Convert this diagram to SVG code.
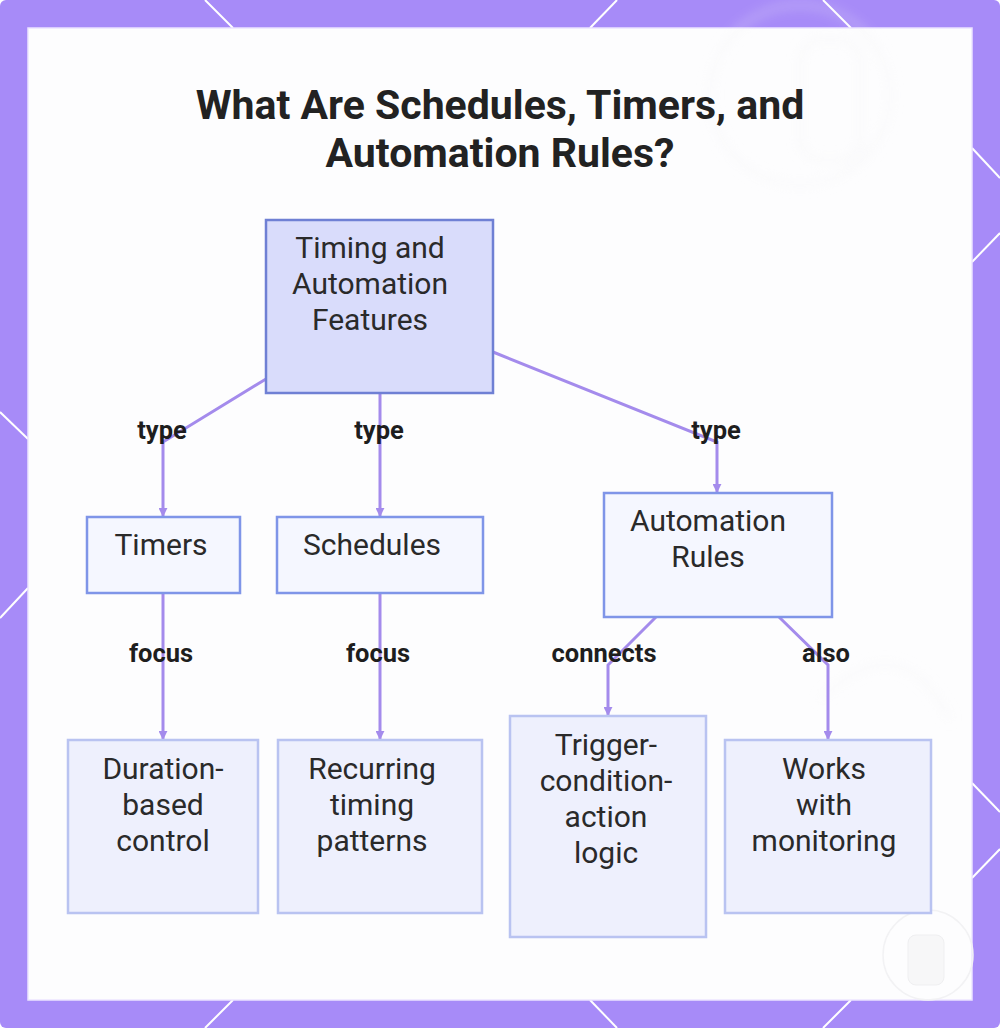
<svg xmlns="http://www.w3.org/2000/svg" width="1000" height="1028" viewBox="0 0 1000 1028">
  <defs>
    <style>
      .title { font-family: Roboto, "Liberation Sans", sans-serif; font-weight: 700; font-size: 41px; fill: #222222; text-anchor: middle; }
      .ntext { font-family: Roboto, "Liberation Sans", sans-serif; font-size: 30px; fill: #2a2a2a; text-anchor: middle; }
      .elabel { font-family: Roboto, "Liberation Sans", sans-serif; font-weight: 700; font-size: 25.5px; fill: #1e1e1e; text-anchor: middle; }
      .edge { fill: none; stroke: #a48bec; stroke-width: 3; marker-end: url(#arrow); }
      .root { fill: #d9dcfb; stroke: #6f80d4; stroke-width: 2.5; }
      .mid { fill: #f5f7ff; stroke: #7f95e8; stroke-width: 2.5; }
      .leaf { fill: #eef0fd; stroke: #b9c3f1; stroke-width: 2.5; }
      .deco { stroke: #ffffff; stroke-width: 2; fill: none; }
      .faint { fill: none; stroke: #f1f1f3; stroke-width: 3; }
    </style>
    <marker id="arrow" viewBox="0 0 10 10" refX="9" refY="5" markerWidth="3" markerHeight="3" orient="auto">
      <path d="M0,0 L10,5 L0,10 z" fill="#a48bec"/>
    </marker>
    <filter id="blur" x="-20%" y="-20%" width="140%" height="140%">
      <feGaussianBlur stdDeviation="6"/>
    </filter>
  </defs>

  <!-- frame -->
  <rect x="0" y="0" width="1000" height="1028" rx="6" fill="#a78bf8"/>
  <g id="frame-lines">
    <line class="deco" x1="205" y1="0" x2="233" y2="28"/>
    <line class="deco" x1="617" y1="0" x2="590" y2="28"/>
    <line class="deco" x1="823" y1="0" x2="851" y2="28"/>
    <line class="deco" x1="233" y1="1000" x2="205" y2="1028"/>
    <line class="deco" x1="590" y1="1000" x2="617" y2="1028"/>
    <line class="deco" x1="851" y1="1000" x2="823" y2="1028"/>
    <line class="deco" x1="0" y1="412" x2="28" y2="439"/>
    <line class="deco" x1="28" y1="588" x2="0" y2="618"/>
    <line class="deco" x1="972" y1="148" x2="1000" y2="178"/>
    <line class="deco" x1="972" y1="262" x2="1000" y2="233"/>
    <line class="deco" x1="972" y1="783" x2="1000" y2="812"/>
    <line class="deco" x1="972" y1="878" x2="1000" y2="849"/>
  </g>
  <rect x="28" y="28" width="944" height="972" fill="#fdfdfe" stroke="#ece4ff" stroke-width="1.5"/>

  <!-- faint background decoration -->
  <g id="background" filter="url(#blur)" opacity="0.6">
    <circle class="faint" cx="800" cy="95" r="90"/>
    <rect x="800" y="40" width="60" height="120" rx="20" class="faint"/>
    <path class="faint" d="M820 700 Q900 620 950 720" />
  </g>
  <circle cx="928" cy="955" r="45" fill="none" stroke="#f2f2f4" stroke-width="1.5"/>
  <rect x="908" y="935" width="36" height="50" rx="8" fill="#f7f7f8" stroke="#efeff1" stroke-width="1"/>

  <!-- title -->
  <text class="title" x="500" y="119">What Are Schedules, Timers, and</text>
  <text class="title" x="500" y="167">Automation Rules?</text>

  <!-- connectors -->
  <g id="connectors">
    <polyline class="edge" points="266,379 163,442 163,516"/>
    <polyline class="edge" points="380,393 380,516"/>
    <polyline class="edge" points="493,352 717,442 717,492"/>
    <polyline class="edge" points="163,593 163,739"/>
    <polyline class="edge" points="380,593 380,739"/>
    <polyline class="edge" points="656,617 608,665 608,715"/>
    <polyline class="edge" points="779,617 828,665 828,739"/>
  </g>

  <!-- edge labels -->
  <g id="edge-labels">
    <text class="elabel" x="162" y="439">type</text>
    <text class="elabel" x="379" y="439">type</text>
    <text class="elabel" x="716" y="439">type</text>
    <text class="elabel" x="161" y="662">focus</text>
    <text class="elabel" x="378" y="662">focus</text>
    <text class="elabel" x="604" y="662">connects</text>
    <text class="elabel" x="826" y="662">also</text>
  </g>

  <!-- nodes -->
  <g id="node-root">
    <rect class="root" x="266" y="220" width="227" height="173"/>
    <text class="ntext" x="370" y="258">Timing and</text>
    <text class="ntext" x="370" y="294">Automation</text>
    <text class="ntext" x="370" y="330">Features</text>
  </g>
  <g id="node-timers">
    <rect class="mid" x="87" y="517" width="153" height="76"/>
    <text class="ntext" x="161" y="555">Timers</text>
  </g>
  <g id="node-schedules">
    <rect class="mid" x="277" y="517" width="206" height="76"/>
    <text class="ntext" x="372" y="555">Schedules</text>
  </g>
  <g id="node-automation">
    <rect class="mid" x="604" y="493" width="228" height="124"/>
    <text class="ntext" x="708" y="531">Automation</text>
    <text class="ntext" x="708" y="567">Rules</text>
  </g>
  <g id="node-duration">
    <rect class="leaf" x="68" y="740" width="190" height="173"/>
    <text class="ntext" x="163" y="779">Duration-</text>
    <text class="ntext" x="163" y="815">based</text>
    <text class="ntext" x="163" y="851">control</text>
  </g>
  <g id="node-recurring">
    <rect class="leaf" x="278" y="740" width="204" height="173"/>
    <text class="ntext" x="372" y="779">Recurring</text>
    <text class="ntext" x="372" y="815">timing</text>
    <text class="ntext" x="372" y="851">patterns</text>
  </g>
  <g id="node-trigger">
    <rect class="leaf" x="510" y="716" width="196" height="221"/>
    <text class="ntext" x="606" y="755">Trigger-</text>
    <text class="ntext" x="606" y="791">condition-</text>
    <text class="ntext" x="606" y="827">action</text>
    <text class="ntext" x="606" y="863">logic</text>
  </g>
  <g id="node-works">
    <rect class="leaf" x="725" y="740" width="206" height="173"/>
    <text class="ntext" x="824" y="779">Works</text>
    <text class="ntext" x="824" y="815">with</text>
    <text class="ntext" x="824" y="851">monitoring</text>
  </g>
</svg>
